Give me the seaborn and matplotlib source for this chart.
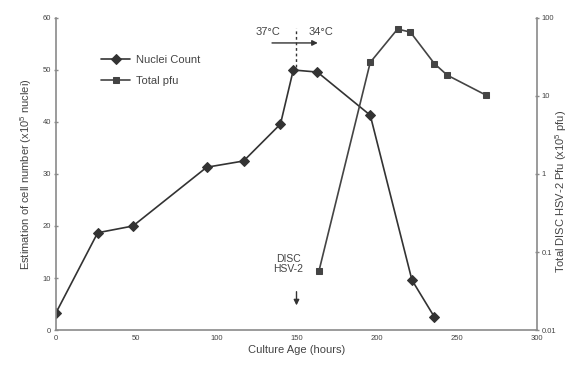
import matplotlib
matplotlib.use("Agg")
import matplotlib.pyplot as plt
import seaborn as sns
import pandas as pd

sns.set_style("white")
plt.rcParams["font.family"] = ["Liberation Sans", "DejaVu Sans"]
plt.rcParams["mathtext.fontset"] = "custom"
plt.rcParams["mathtext.rm"] = "Liberation Sans"

# nuclei count (x10^5 nuclei)
nuclei_hours = [0, 26, 48, 94, 117, 140, 148, 163, 196, 222, 236]
nuclei_count = [3.3, 18.7, 20.0, 31.3, 32.5, 39.6, 50.0, 49.6, 41.3, 9.6, 2.5]

# total DISC HSV-2 pfu (x10^5)
pfu_hours = [164, 196, 213, 221, 236, 244, 268]
pfu_total = [0.057, 27, 72, 66, 26, 18.5, 10.3]

x_ticks = [0, 50, 100, 150, 200, 250, 300]
y_ticks = [0, 10, 20, 30, 40, 50, 60]
y2_ticks = [0.01, 0.1, 1, 10, 100]
y2_labels = ["0.01", "0.1", "1", "10", "100"]

nuc_df = pd.DataFrame({"hours": nuclei_hours, "count": nuclei_count})
pfu_df = pd.DataFrame({"hours": pfu_hours, "pfu": pfu_total})

line_col = "#333333"
axis_col = "#8a8a8a"
text_col = "#444444"

fig = plt.figure(figsize=(5.73, 3.67), dpi=100)
ax = fig.add_axes([0.0977, 0.1008, 0.8395, 0.8502])
ax2 = ax.twinx()

sns.lineplot(data=nuc_df, x="hours", y="count", ax=ax, color=line_col,
             marker="D", markersize=5, linewidth=1.2, label="Nuclei Count",
             markeredgecolor=line_col, legend=False)
sns.lineplot(data=pfu_df, x="hours", y="pfu", ax=ax2, color="#444444",
             marker="s", markersize=4, linewidth=1.2, label="Total pfu",
             markeredgecolor="#444444", legend=False)

ax.set_xlim(0, 300)
ax.set_ylim(0, 60)
ax2.set_yscale("log")
ax2.set_ylim(0.01, 100)

ax.set_xticks(x_ticks)
ax.set_xticklabels([str(t) for t in x_ticks])
ax.set_yticks(y_ticks)
ax.set_yticklabels([str(t) for t in y_ticks])
ax2.set_yticks(y2_ticks)
ax2.set_yticklabels(y2_labels)
ax2.minorticks_off()

for a in (ax, ax2):
    a.spines["top"].set_visible(False)
    for s in ("left", "right", "bottom"):
        a.spines[s].set_color(axis_col)
        a.spines[s].set_linewidth(1.2)
    a.tick_params(colors=axis_col, labelcolor=text_col, labelsize=5.5,
                  length=3, width=1, direction="inout", pad=2)
ax.spines["right"].set_visible(False)
ax2.spines["left"].set_visible(False)
ax2.spines["bottom"].set_visible(False)

ax.set_xlabel("Culture Age (hours)", fontsize=8, color=text_col, labelpad=2)
ax.set_ylabel("Estimation of cell number (x10$^5$ nuclei)", fontsize=8,
              color=text_col, labelpad=6)
ax2.set_ylabel("")
fig.text(0.979, 0.477, "Total DISC HSV-2 Pfu (x10$^5$ pfu)", fontsize=8,
         color=text_col, rotation=90, ha="center", va="center")

# temperature shift annotation
ax.text(132, 57.3, "37°C", fontsize=8, color=text_col, ha="center", va="center")
ax.text(165, 57.3, "34°C", fontsize=8, color=text_col, ha="center", va="center")
ax.plot([150, 150], [50.5, 58.0], color=line_col, linestyle=(0, (2, 2)),
        linewidth=1)
ax.annotate("", xy=(165, 55.2), xytext=(133, 55.2),
            arrowprops=dict(arrowstyle="-|>", color=line_col, lw=1,
                            mutation_scale=8))

# infection annotation
ax.text(145, 12.7, "DISC\nHSV-2", fontsize=7.5, color=text_col,
        ha="center", va="center", linespacing=1.1)
ax.annotate("", xy=(150, 4.2), xytext=(150, 7.9),
            arrowprops=dict(arrowstyle="-|>", color=line_col, lw=1,
                            mutation_scale=8))

h1, l1 = ax.get_legend_handles_labels()
h2, l2 = ax2.get_legend_handles_labels()
leg = ax.legend(h1 + h2, l1 + l2, loc="upper left",
                bbox_to_anchor=(0.085, 0.895), frameon=False, fontsize=8,
                handlelength=2.6, labelspacing=1.0, borderaxespad=0,
                handletextpad=0.5)
for t in leg.get_texts():
    t.set_color(text_col)

fig.savefig("out.png", dpi=100)
